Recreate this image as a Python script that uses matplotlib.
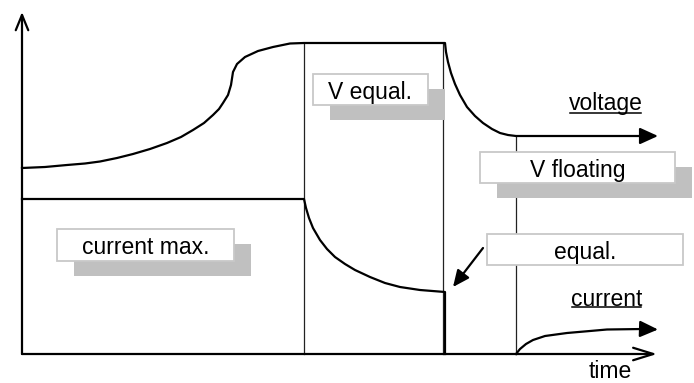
import matplotlib
matplotlib.use("Agg")
import matplotlib.pyplot as plt
from matplotlib.patches import Rectangle

# ---- data (time in arbitrary units, level measured upward from the time axis) ----
Y0 = 354  # pixel row of time axis (used to convert read pixel rows to levels)

voltage_t = [22, 45, 67, 85, 100, 117, 133, 150, 167, 181, 193, 204, 213, 219, 223, 228, 231, 233, 237, 245, 258, 273, 290, 304,
             445, 446, 448, 451, 455, 460, 467, 475, 483, 492, 500, 508, 516, 643]
voltage_px = [168, 167, 165, 163.5, 161.5, 158, 154, 149, 143, 137, 130, 123, 115, 109, 103, 95, 85, 72, 64, 57, 51, 47, 43.5, 43,
              43, 52, 62, 73, 84, 95, 107, 116, 123, 129, 133, 135, 136, 136]
voltage = [Y0 - p for p in voltage_px]

current_t = [22, 304, 306, 309, 313, 320, 327, 335, 345, 355, 370, 385, 400, 420, 445, 445]
current_px = [199, 199, 208, 218, 228, 240, 249, 257, 264, 270, 277, 283, 287, 290, 292, 354]
current = [Y0 - p for p in current_px]

float_t = [516, 520, 526, 533, 545, 567, 590, 607, 643]
float_px = [354, 349, 344, 340, 336, 333, 331, 329.5, 329]
float_current = [Y0 - p for p in float_px]

phase_bounds = [304, 443, 516]
phase_tops = [Y0 - 43, Y0 - 43, Y0 - 136]

labels = ["current max.", "V equal.", "V floating", "equal."]

fig = plt.figure(figsize=(6.94, 3.83), dpi=100)
ax = fig.add_axes([0, 0, 1, 1])
ax.set_xlim(0, 694)
ax.set_ylim(Y0 - 383, Y0)
ax.axis("off")

FONT = "Liberation Sans"
FS = 16.5
LW = 1.6

# phase separators
for x, top in zip(phase_bounds, phase_tops):
    ax.plot([x, x], [0, top], color="#222222", lw=0.9, zorder=2)

# axes with open arrow heads
ax.annotate("", xy=(22, Y0 - 12), xytext=(22, 0),
            arrowprops=dict(arrowstyle="->,head_length=1.1,head_width=0.45", lw=LW,
                            color="black", shrinkA=0, shrinkB=0), zorder=3)
ax.annotate("", xy=(657, 0), xytext=(22, 0),
            arrowprops=dict(arrowstyle="->,head_length=1.45,head_width=0.45", lw=LW,
                            color="black", shrinkA=0, shrinkB=0), zorder=3)

# curves
ax.plot(voltage_t, voltage, color="black", lw=LW, solid_joinstyle="round", zorder=3)
ax.plot(current_t, current, color="black", lw=LW, solid_joinstyle="round", zorder=3)
ax.plot(float_t, float_current, color="black", lw=LW, solid_joinstyle="round", zorder=3)

# filled arrow heads at curve ends
ax.annotate("", xy=(658, voltage[-1]), xytext=(voltage_t[-1] - 1, voltage[-1]),
            arrowprops=dict(arrowstyle="-|>,head_length=1.1,head_width=0.5", lw=LW,
                            color="black", shrinkA=0, shrinkB=0), zorder=3)
ax.annotate("", xy=(658, float_current[-1] - 0.5), xytext=(float_t[-1] - 1, float_current[-1]),
            arrowprops=dict(arrowstyle="-|>,head_length=1.1,head_width=0.5", lw=LW,
                            color="black", shrinkA=0, shrinkB=0), zorder=3)

# "equal." pointer arrow
ax.annotate("", xy=(453, Y0 - 287), xytext=(483, Y0 - 248),
            arrowprops=dict(arrowstyle="-|>,head_length=1.0,head_width=0.45", lw=LW,
                            color="black", shrinkA=0, shrinkB=0), zorder=3)


def box(x0, x1, ytop, ybot, text, shadow=True):
    w = x1 - x0
    h = ybot - ytop
    if shadow:
        ax.add_patch(Rectangle((x0 + 17, Y0 - ybot - 15), w, h, facecolor="#c0c0c0",
                               edgecolor="none", zorder=4))
    ax.add_patch(Rectangle((x0, Y0 - ybot), w, h, facecolor="white",
                           edgecolor="#c8c8c8", lw=1.3, zorder=5))
    ax.text((x0 + x1) / 2, Y0 - (ytop + ybot) / 2, text, ha="center", va="center_baseline",
            fontsize=FS, family=FONT, color="black", zorder=6)


box(57, 234, 229, 261, labels[0])
box(313, 428, 74, 105, labels[1])
box(480, 675, 152, 183, labels[2])
box(487, 683, 234, 265, labels[3], shadow=False)

# underlined series labels
t_v = ax.text(605.5, Y0 - 110, "voltage", ha="center", va="baseline", fontsize=FS, family=FONT)
t_c = ax.text(606.5, Y0 - 305.5, "current", ha="center", va="baseline", fontsize=FS, family=FONT)
ax.text(610, Y0 - 378, "time", ha="center", va="baseline", fontsize=FS, family=FONT)

fig.canvas.draw()
r = fig.canvas.get_renderer()
inv = ax.transData.inverted()
for t, uy in ((t_v, 112.7), (t_c, 307.3)):
    bb = t.get_window_extent(r)
    (xa, _), (xb, _) = inv.transform([(bb.x0, bb.y0), (bb.x1, bb.y0)])
    ax.plot([xa + 1, xb - 1], [Y0 - uy, Y0 - uy], color="black", lw=1.1, zorder=3)

fig.savefig("out.png", dpi=100)
